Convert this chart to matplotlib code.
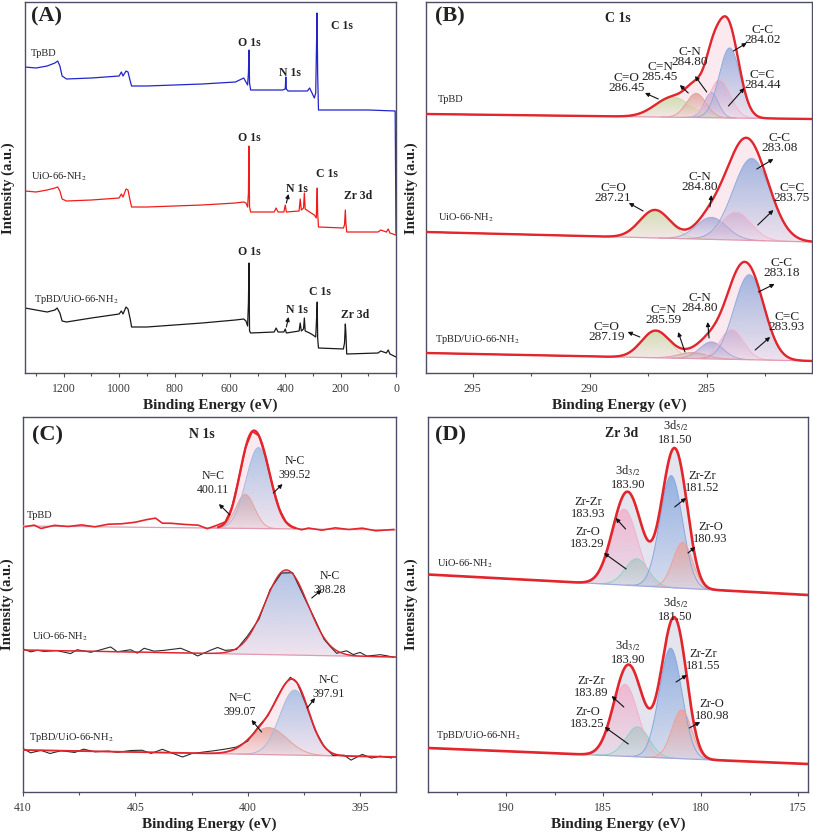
import numpy as np
import matplotlib
matplotlib.use("Agg")
import matplotlib.pyplot as plt
from matplotlib.colors import to_rgb, LinearSegmentedColormap

plt.rcParams['font.family'] = ['Liberation Serif', 'DejaVu Serif']
plt.rcParams['mathtext.fontset'] = 'stix'

# ---------------- DATA ----------------
# Panel A: survey spectra (binding energy eV, intensity a.u. incl. offset)
surv_tpbd_ev = [1340, 1300, 1260, 1232, 1222, 1214, 1206, 1190, 1100, 1000, 992, 986, 975, 968, 960, 955, 900, 700, 580, 565, 550, 542, 536, 533, 531, 529, 525, 410, 400, 398, 396, 390, 320, 312, 305, 295, 290, 287, 285, 283, 280, 100, 3, 0]
surv_tpbd_i = [306, 305, 307, 310, 312, 307, 297, 294, 295, 297, 301, 297, 302, 301, 292, 287, 287, 289, 291, 293, 295, 291, 288, 300, 323, 290, 283, 283, 284, 296, 284, 282, 282, 285, 281, 275, 280, 330, 360, 300, 263, 263, 262, 140]
surv_uio_ev = [1340, 1300, 1260, 1232, 1222, 1214, 1206, 1190, 1100, 1000, 992, 986, 975, 968, 960, 955, 900, 700, 580, 550, 542, 536, 533, 531, 529, 525, 440, 433, 426, 405, 400, 396, 350, 346, 342, 334, 331, 328, 312, 295, 288, 286, 284.5, 283, 280, 190, 186, 183, 181, 178, 65, 55, 35, 28, 22, 0]
surv_uio_i = [182, 181, 183, 185, 186, 182, 174, 172, 173, 175, 179, 176, 184, 183, 172, 166, 166, 168, 170, 171, 170, 166, 180, 227, 166, 161, 161, 165, 161, 161, 168, 161, 162, 174, 163, 165, 180, 164, 161, 158, 155, 172, 185, 160, 146, 145, 148, 163, 150, 141, 141, 143, 141, 144, 140, 138]
surv_comp_ev = [1340, 1300, 1260, 1232, 1224, 1214, 1206, 1190, 1100, 1000, 992, 986, 975, 968, 960, 955, 900, 700, 580, 550, 542, 536, 533, 531, 529, 525, 440, 433, 426, 405, 400, 396, 350, 346, 342, 334, 331, 328, 312, 300, 290, 286, 284.5, 283, 280, 190, 186, 183, 181, 178, 65, 55, 35, 28, 22, 0]
surv_comp_i = [65, 63, 61, 63, 65, 60, 52, 51, 55, 59, 62, 59, 66, 64, 54, 46, 46, 50, 53, 54, 52, 47, 70, 110, 42, 40, 41, 45, 41, 41, 44, 40, 42, 50, 42, 44, 55, 42, 40, 38, 36, 60, 71, 35, 25, 24, 30, 49, 40, 19, 20, 22, 20, 23, 19, 16]

samples = ["TpBD", "UiO-66-NH$_2$", "TpBD/UiO-66-NH$_2$"]

# Panel B: C 1s fits  (labels, centers eV, heights, sigma eV) ; baseline (left, right)
c1s_labels = ["C=O", "C=N", "C-N", "C=C", "C-C"]
c1s_colors = ["#c9dca8", "#dfa39c", "#a7a9d6", "#f3b6cf", "#93acdc"]
c1s_tpbd_pos = [286.45, 285.45, 284.80, 284.44, 284.02]
c1s_tpbd_amp = [20, 24, 25, 38, 70]
c1s_tpbd_sig = [0.75, 0.42, 0.30, 0.45, 0.45]
c1s_tpbd_base = [259, 254]
c1s_uio_labels = ["C=O", "C-N", "C=C", "C-C"]
c1s_uio_colors = ["#c9dca8", "#a7a9d6", "#f3b6cf", "#93acdc"]
c1s_uio_pos = [287.21, 284.80, 283.75, 283.08]
c1s_uio_amp = [28, 22, 28, 82]
c1s_uio_sig = [0.65, 0.65, 0.65, 0.80]
c1s_uio_base = [141, 131]
c1s_comp_pos = [287.19, 285.59, 284.80, 283.93, 283.18]
c1s_comp_amp = [27, 6, 17, 30, 85]
c1s_comp_sig = [0.60, 0.60, 0.50, 0.50, 0.65]
c1s_comp_base = [20, 12]

# Panel C: N 1s fits
n1s_tpbd_labels = ["N=C", "N-C"]
n1s_colors = ["#e6a39b", "#a3bde3"]
n1s_tpbd_pos = [400.11, 399.52]
n1s_tpbd_amp = [34, 81]
n1s_tpbd_sig = [0.42, 0.55]
n1s_tpbd_base = [266, 262]
n1s_uio_pos = [398.28]
n1s_uio_amp = [85]
n1s_uio_sig = [0.95]
n1s_uio_base = [142, 135]
n1s_comp_pos = [399.07, 397.91]
n1s_comp_amp = [27, 65]
n1s_comp_sig = [0.82, 0.66]
n1s_comp_base = [42, 35]
n1s_tpbd_raw_ev = [409.9, 409.5, 409.2, 408.6, 408.0, 407.4, 406.8, 406.2, 405.6, 405.0, 404.5, 404.1, 403.8, 403.4, 402.8, 402.2, 401.8, 401.4, 401.0, 400.7, 400.4, 400.1, 399.8, 399.5, 399.2, 398.9, 398.6, 398.3, 398.0, 397.6, 397.3, 396.7, 396.1, 395.5, 394.9, 394.3, 393.5]
n1s_tpbd_raw_dev = [-0.7, 1.0, -2.3, 1.0, 0.0, 1.7, 0.0, 2.7, 3.3, 5.0, 7.7, 9.3, 4.3, 4.3, 3.3, 2.7, -0.7, 2.0, 0.5, 0.0, 0.0, 0.0, 0.0, 0.0, 0.0, 0.0, 0.0, 0.0, 0.0, -1.0, 1.0, -1.0, 1.5, 0.0, 1.5, -1.0, 0.5]
n1s_uio_raw_ev = [409.96, 409.66, 409.36, 409.07, 408.48, 407.88, 407.59, 406.99, 406.69, 406.10, 405.80, 405.21, 404.91, 404.61, 404.17, 403.72, 402.98, 402.53, 402.23, 401.64, 401.34, 401.0, 400.5, 400.0, 399.5, 399.0, 398.5, 398.0, 397.5, 397.0, 396.6, 396.34, 396.04, 395.6, 395.3, 395.0, 394.7, 394.1, 393.8, 393.5]
n1s_uio_raw_dev = [0.7, -1.7, 0.0, -1.0, 0.0, -2.7, 1.3, -1.0, 0.7, 4.7, 0.0, 2.3, -1.0, 4.0, 1.3, 2.3, 4.7, 0.7, -2.7, 3.3, 5.7, 2.0, -1.0, 2.0, -2.0, 1.5, -1.0, 1.0, -2.0, 1.5, -1.5, -1.0, -2.7, 3.7, 1.0, 3.7, 0.3, 2.0, 1.0, -0.3]
n1s_comp_raw_ev = [409.96, 409.66, 409.2, 408.8, 408.3, 407.7, 407.3, 406.8, 406.2, 405.8, 405.2, 404.7, 404.3, 403.8, 403.4, 402.9, 402.5, 401.9, 401.5, 401.0, 400.5, 400.0, 399.5, 399.1, 398.7, 398.4, 398.1, 397.8, 397.4, 397.0, 396.6, 396.2, 395.7, 395.4, 394.9, 394.5, 394.1, 393.6]
n1s_comp_raw_dev = [1.0, -2.7, 0.0, -3.0, 0.0, -1.5, 2.0, -0.5, 0.5, -0.5, 1.5, 2.0, -1.0, 3.3, 0.0, -4.0, -0.5, 1.5, 2.5, 3.0, 1.0, -1.5, 1.5, -1.0, 1.0, 0.5, 2.0, 0.0, -1.0, -1.0, 0.0, -2.0, 0.5, -4.0, 2.0, -1.5, 0.5, -1.0]

# Panel D: Zr 3d fits
zr_labels = ["Zr-O", "Zr-Zr", "Zr-Zr", "Zr-O"]
zr_colors = ["#92d2c4", "#f2b0cc", "#86a8de", "#eba39c"]
zr_uio_pos = [183.29, 183.93, 181.52, 180.93]
zr_uio_amp = [27, 76, 112, 46]
zr_uio_sig = [0.60, 0.68, 0.58, 0.50]
zr_uio_base = [217.5, 197]
zr_comp_pos = [183.25, 183.89, 181.55, 180.98]
zr_comp_amp = [30, 72, 110, 49]
zr_comp_sig = [0.60, 0.66, 0.58, 0.50]
zr_comp_base = [44, 28]

# ---------------- HELPERS ----------------
W, H = 813, 832
fig = plt.figure(figsize=(W / 100, H / 100), dpi=100)
SPINE = "#4d4d66"
TXT = "#222222"


def add_ax(l, t, r, b):
    ax = fig.add_axes([l / W, 1 - b / H, (r - l) / W, (b - t) / H])
    for s in ax.spines.values():
        s.set_color(SPINE)
        s.set_linewidth(1.0)
    ax.set_yticks([])
    ax.tick_params(axis='x', which='major', direction='out', length=3, width=0.8,
                   color=SPINE, labelsize=8.5, labelcolor="#3a3a3a", pad=4)
    ax.tick_params(axis='x', which='minor', direction='out', length=2, width=0.8, color=SPINE)
    ax.set_xlabel("Binding Energy (eV)", fontsize=11, fontweight='bold', labelpad=2.5, color=TXT)
    return ax


def gauss(x, c, a, s):
    return a * np.exp(-0.5 * ((x - c) / s) ** 2)


def grad_fill(ax, xs, y0, y1, color, a_top=0.85, a_bot=0.12, zorder=2):
    poly = ax.fill_between(xs, y0, y1, color='none', lw=0)
    rgb = to_rgb(color)
    cmap = LinearSegmentedColormap.from_list("g", [(*rgb, a_bot), (*rgb, a_top)])
    ymin, ymax = float(np.min(y0)), float(np.max(y1))
    grad = np.linspace(0, 1, 256).reshape(-1, 1)
    im = ax.imshow(grad, extent=[xs[0], xs[-1], ymin, ymax], origin='lower', aspect='auto',
                   cmap=cmap, zorder=zorder, interpolation='bilinear')
    im.set_clip_path(poly.get_paths()[0], transform=ax.transData)
    return im


def model(x, xlim, base, pos, amp, sig):
    x = np.asarray(x, dtype=float)
    bl = base[0] + (base[1] - base[0]) * (x - xlim[0]) / (xlim[1] - xlim[0])
    comps = [gauss(x, c, a, s) for c, a, s in zip(pos, amp, sig)]
    return bl, comps


def draw_fit(ax, xlim, base, pos, amp, sig, colors, env_fill, base_col, lw_env=1.7,
             raw=None, raw_col="#2a2a2a", raw_lw=0.8, env_full=True):
    xs = np.linspace(xlim[0], xlim[1], 900)
    bl, comps = model(xs, xlim, base, pos, amp, sig)
    tot = np.sum(comps, axis=0)
    env = bl + tot
    ax.fill_between(xs, bl, env, color=env_fill, lw=0, zorder=1)
    for comp, col in zip(comps, colors):
        mask = comp > 0.05
        grad_fill(ax, xs[mask], bl[mask], bl[mask] + comp[mask], col)
        ax.plot(xs[mask], bl[mask] + comp[mask], color=col, lw=0.7, zorder=3)
    ax.plot(xs, bl, color=base_col, lw=0.9, zorder=3)
    if raw is not None:
        rb, rc = model(raw[0], xlim, base, pos, amp, sig)
        ry = rb + np.sum(rc, axis=0) + np.asarray(raw[1])
        ax.plot(raw[0], ry, color=raw_col, lw=raw_lw, zorder=4)
    else:
        ax.plot(xs, env, color="#333333", lw=0.8, zorder=4)
    if env_full:
        ax.plot(xs, env, color="#e3262d", lw=lw_env, zorder=5)
    else:
        m = tot > 1.0
        ax.plot(xs[m], env[m], color="#e3262d", lw=lw_env, zorder=5)
    ax.set_xlim(*xlim)


def lab(ax, s, x, y, fs, ls=0.9, **kw):
    ax.text(x, y, s, ha='center', va='center', fontsize=fs, color=TXT,
            linespacing=ls, zorder=10, **kw)


def arrow(ax, tail, head):
    ax.annotate('', xy=head, xytext=tail,
                arrowprops=dict(arrowstyle='-|>', lw=0.8, color='#111111',
                                mutation_scale=6, shrinkA=0, shrinkB=0), zorder=10)


def ylabel(x_px, y_px):
    fig.text(x_px / W, 1 - y_px / H, "Intensity (a.u.)", rotation=90, ha='center',
             va='center', fontsize=10.5, fontweight='bold', color=TXT)


# ---------------- PANEL A ----------------
axA = add_ax(25, 2, 396, 373)
axA.plot(surv_tpbd_ev, surv_tpbd_i, color="#2424cc", lw=0.9)
axA.plot(surv_uio_ev, surv_uio_i, color="#f01c1c", lw=0.9)
axA.plot(surv_comp_ev, surv_comp_i, color="#1a1a1a", lw=0.9)
axA.set_xlim(1340, 0)
axA.set_ylim(0, 371)
axA.set_xticks([1200, 1000, 800, 600, 400, 200, 0])
axA.set_xticks(np.arange(100, 1340, 200), minor=True)
axA.text(0.015, 0.96, "(A)", transform=axA.transAxes, fontsize=16, fontweight='bold',
         ha='left', va='center', color=TXT)
bold = dict(fontweight='bold')
lab(axA, "O 1s", 530, 330, 8.5, **bold)
lab(axA, "N 1s", 383, 300, 8.5, **bold)
lab(axA, "C 1s", 196, 347, 8.5, **bold)
lab(axA, samples[0], 1273, 320, 7.5)
lab(axA, "O 1s", 530, 235, 8.5, **bold)
lab(axA, "N 1s", 358, 184, 8.5, **bold)
arrow(axA, (396, 170), (388, 179))
lab(axA, "C 1s", 250, 199, 8.5, **bold)
lab(axA, "Zr 3d", 136, 177, 8.5, **bold)
lab(axA, samples[1], 1219, 196, 7.5)
lab(axA, "O 1s", 530, 121, 8.5, **bold)
lab(axA, "N 1s", 358, 63, 8.5, **bold)
arrow(axA, (396, 46), (388, 56))
lab(axA, "C 1s", 274, 81, 8.5, **bold)
lab(axA, "Zr 3d", 148, 58, 8.5, **bold)
lab(axA, samples[2], 1153, 74, 7.5)
ylabel(8, 188)

# ---------------- PANEL B ----------------
axB = add_ax(426, 2, 812, 373)
xlB = (297.0, 280.5)
draw_fit(axB, xlB, c1s_tpbd_base, c1s_tpbd_pos, c1s_tpbd_amp, c1s_tpbd_sig, c1s_colors, "#fbe9f0", "#e29aae")
draw_fit(axB, xlB, c1s_uio_base, c1s_uio_pos, c1s_uio_amp, c1s_uio_sig, c1s_uio_colors, "#fbe9f0", "#e29aae")
draw_fit(axB, xlB, c1s_comp_base, c1s_comp_pos, c1s_comp_amp, c1s_comp_sig, c1s_colors, "#fbe9f0", "#e29aae")
axB.set_ylim(0, 371)
axB.set_xticks([295, 290, 285])
axB.set_xticks(np.arange(282.5, 297, 2.5), minor=True)
axB.text(0.023, 0.96, "(B)", transform=axB.transAxes, fontsize=16, fontweight='bold',
         ha='left', va='center', color=TXT)
axB.text(0.498, 0.956, "C 1s", transform=axB.transAxes, fontsize=10, fontweight='bold',
         ha='center', va='center', color=TXT)
fsB = 9.5
# TpBD
lab(axB, f"{c1s_labels[4]}\n{c1s_tpbd_pos[4]:.2f}", 282.62, 338, fsB, 0.85)
lab(axB, f"{c1s_labels[3]}\n{c1s_tpbd_pos[3]:.2f}", 282.62, 293, fsB, 0.85)
lab(axB, f"{c1s_labels[2]}\n{c1s_tpbd_pos[2]:.2f}", 285.72, 316, fsB, 0.85)
lab(axB, f"{c1s_labels[1]}\n{c1s_tpbd_pos[1]:.2f}", 287.0, 301, fsB, 0.85)
lab(axB, f"{c1s_labels[0]}\n{c1s_tpbd_pos[0]:.2f}", 288.43, 290, fsB, 0.85)
arrow(axB, (283.86, 322), (283.29, 330))
arrow(axB, (284.07, 267), (283.39, 285))
arrow(axB, (285.0, 281), (285.5, 297))
arrow(axB, (285.79, 280), (286.15, 288))
arrow(axB, (287.07, 274), (287.64, 280))
lab(axB, samples[0], 295.93, 273, 7.5)
# UiO
lab(axB, f"{c1s_uio_labels[3]}\n{c1s_uio_pos[3]:.2f}", 281.9, 230, fsB, 0.85)
lab(axB, f"{c1s_uio_labels[2]}\n{c1s_uio_pos[2]:.2f}", 281.36, 180, fsB, 0.85)
lab(axB, f"{c1s_uio_labels[1]}\n{c1s_uio_pos[1]:.2f}", 285.29, 191, fsB, 0.85)
lab(axB, f"{c1s_uio_labels[0]}\n{c1s_uio_pos[0]:.2f}", 289.0, 180, fsB, 0.85)
arrow(axB, (282.86, 204), (282.15, 214))
arrow(axB, (282.82, 148), (282.15, 163))
arrow(axB, (284.86, 166), (284.80, 178))
arrow(axB, (287.72, 162), (288.33, 170))
lab(axB, samples[1], 295.28, 155, 7.5)
# composite
lab(axB, f"{c1s_labels[4]}\n{c1s_comp_pos[4]:.2f}", 281.79, 105, fsB, 0.85)
lab(axB, f"{c1s_labels[3]}\n{c1s_comp_pos[3]:.2f}", 281.57, 51, fsB, 0.85)
lab(axB, f"{c1s_labels[2]}\n{c1s_comp_pos[2]:.2f}", 285.29, 70, fsB, 0.85)
lab(axB, f"{c1s_labels[1]}\n{c1s_comp_pos[1]:.2f}", 286.86, 58, fsB, 0.85)
lab(axB, f"{c1s_labels[0]}\n{c1s_comp_pos[0]:.2f}", 289.29, 41, fsB, 0.85)
arrow(axB, (282.79, 81), (282.1, 89))
arrow(axB, (282.93, 23), (282.29, 36))
arrow(axB, (284.9, 35), (284.96, 51))
arrow(axB, (285.93, 21), (286.22, 41))
arrow(axB, (287.86, 36), (288.38, 41))
lab(axB, samples[2], 294.79, 33, 7.5)
ylabel(411, 188)

# ---------------- PANEL C ----------------
axC = add_ax(23, 417, 396, 792)
xlC = (410.0, 393.4)
draw_fit(axC, xlC, n1s_tpbd_base, n1s_tpbd_pos, n1s_tpbd_amp, n1s_tpbd_sig, n1s_colors, "#fbe9f0", "#e29aae",
         raw=(n1s_tpbd_raw_ev, n1s_tpbd_raw_dev), raw_col="#e3262d", raw_lw=1.2, env_full=False)
draw_fit(axC, xlC, n1s_uio_base, n1s_uio_pos, n1s_uio_amp, n1s_uio_sig, [n1s_colors[1]], "#fbe9f0", "#e29aae",
         lw_env=1.0, raw=(n1s_uio_raw_ev, n1s_uio_raw_dev))
draw_fit(axC, xlC, n1s_comp_base, n1s_comp_pos, n1s_comp_amp, n1s_comp_sig, n1s_colors, "#fbe9f0", "#e29aae",
         lw_env=1.3, raw=(n1s_comp_raw_ev, n1s_comp_raw_dev))
axC.set_ylim(0, 375)
axC.set_xticks([410, 405, 400, 395])
axC.set_xticks(np.arange(395, 410, 2.5), minor=True)
axC.text(0.023, 0.952, "(C)", transform=axC.transAxes, fontsize=16, fontweight='bold',
         ha='left', va='center', color=TXT)
axC.text(0.479, 0.952, "N 1s", transform=axC.transAxes, fontsize=10, fontweight='bold',
         ha='center', va='center', color=TXT)
fsC = 8.5
lab(axC, f"{n1s_tpbd_labels[1]}\n{n1s_tpbd_pos[1]:.2f}", 397.9, 324, fsC, 1.2)
lab(axC, f"{n1s_tpbd_labels[0]}\n{n1s_tpbd_pos[0]:.2f}", 401.56, 309, fsC, 1.2)
arrow(axC, (398.86, 299), (398.45, 308))
arrow(axC, (400.79, 277), (401.28, 288))
lab(axC, samples[0], 409.26, 276, 7.5)
lab(axC, f"N-C\n{n1s_uio_pos[0]:.2f}", 396.34, 209, fsC, 1.2)
arrow(axC, (397.15, 194), (396.71, 202))
lab(axC, samples[1], 408.37, 155, 7.5)
lab(axC, f"{n1s_tpbd_labels[1]}\n{n1s_comp_pos[1]:.2f}", 396.41, 105, fsC, 1.2)
lab(axC, f"{n1s_tpbd_labels[0]}\n{n1s_comp_pos[0]:.2f}", 400.35, 87, fsC, 1.2)
arrow(axC, (397.35, 84), (397.0, 94))
arrow(axC, (399.38, 60), (399.83, 72))
lab(axC, samples[2], 407.84, 54, 7.5)
ylabel(7, 604)

# ---------------- PANEL D ----------------
axD = add_ax(428, 417, 808, 792)
xlD = (194.0, 174.5)
draw_fit(axD, xlD, zr_uio_base, zr_uio_pos, zr_uio_amp, zr_uio_sig, zr_colors, "#e4e4ef", "#a3a9d8", lw_env=1.9)
draw_fit(axD, xlD, zr_comp_base, zr_comp_pos, zr_comp_amp, zr_comp_sig, zr_colors, "#e4e4ef", "#a3a9d8", lw_env=1.9)
axD.set_ylim(0, 375)
axD.set_xticks([190, 185, 180, 175])
axD.set_xticks(np.arange(177.5, 194, 2.5), minor=True)
axD.text(0.018, 0.952, "(D)", transform=axD.transAxes, fontsize=16, fontweight='bold',
         ha='left', va='center', color=TXT)
axD.text(0.51, 0.955, "Zr 3d", transform=axD.transAxes, fontsize=10, fontweight='bold',
         ha='center', va='center', color=TXT)
fsD = 9
lab(axD, "3d$_{5/2}$\n181.50", 181.30, 360, fsD, 1.1)
lab(axD, "3d$_{3/2}$\n183.90", 183.72, 315, fsD, 1.1)
lab(axD, f"{zr_labels[2]}\n{zr_uio_pos[2]:.2f}", 179.94, 310, fsD, 1.1)
lab(axD, f"{zr_labels[3]}\n{zr_uio_pos[3]:.2f}", 179.51, 259, fsD, 1.1)
lab(axD, f"{zr_labels[1]}\n{zr_uio_pos[1]:.2f}", 185.77, 284, fsD, 1.1)
lab(axD, f"{zr_labels[0]}\n{zr_uio_pos[0]:.2f}", 185.82, 254, fsD, 1.1)
arrow(axD, (181.34, 285), (180.76, 294))
arrow(axD, (180.66, 239), (180.28, 245))
arrow(axD, (183.86, 263), (184.37, 274))
arrow(axD, (183.83, 223), (184.97, 239))
lab(axD, samples[1], 192.13, 228, 7.5)
lab(axD, "3d$_{5/2}$\n181.50", 181.30, 183, fsD, 1.1)
lab(axD, "3d$_{3/2}$\n183.90", 183.72, 140, fsD, 1.1)
lab(axD, f"{zr_labels[2]}\n{zr_comp_pos[2]:.2f}", 179.86, 132, fsD, 1.1)
lab(axD, f"{zr_labels[3]}\n{zr_comp_pos[3]:.2f}", 179.43, 82, fsD, 1.1)
lab(axD, f"{zr_labels[1]}\n{zr_comp_pos[1]:.2f}", 185.65, 105, fsD, 1.1)
lab(axD, f"{zr_labels[0]}\n{zr_comp_pos[0]:.2f}", 185.82, 74, fsD, 1.1)
arrow(axD, (181.27, 110), (180.71, 117))
arrow(axD, (180.59, 64), (180.03, 70))
arrow(axD, (183.95, 85), (184.58, 96))
arrow(axD, (183.72, 48), (184.93, 65))
lab(axD, samples[2], 191.4, 57, 7.5)
ylabel(411, 604)

fig.savefig("out.png", dpi=100)
